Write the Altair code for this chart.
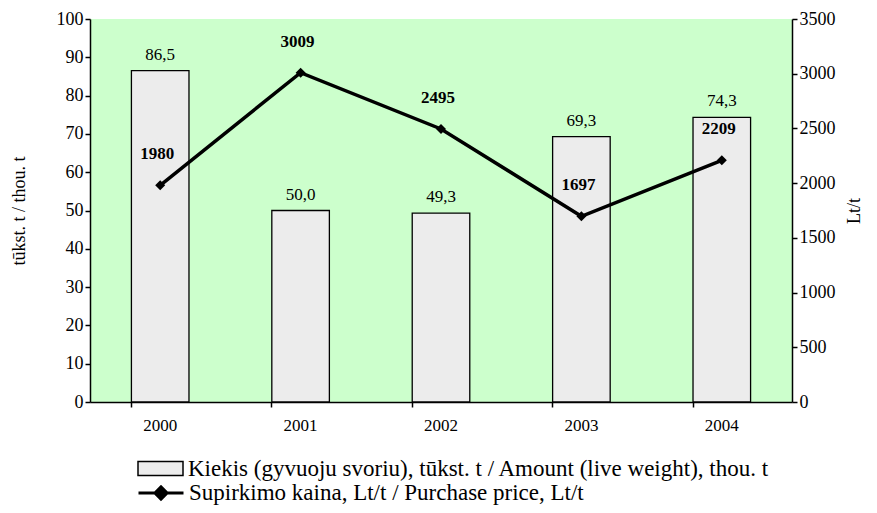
import altair as alt
import pandas as pd

years = ["2000", "2001", "2002", "2003", "2004"]
amount = [86.5, 50.0, 49.3, 69.3, 74.3]
amount_labels = ["86,5", "50,0", "49,3", "69,3", "74,3"]
price = [1980, 3009, 2495, 1697, 2209]

bar_name = "Kiekis (gyvuoju svoriu), tūkst. t / Amount (live weight), thou. t"
line_name = "Supirkimo kaina, Lt/t / Purchase price, Lt/t"

df = pd.DataFrame({
    "year": years,
    "amount": amount,
    "amount_label": amount_labels,
    "price": price,
    "bar_series": [bar_name] * 5,
    "line_series": [line_name] * 5,
})

FONT = "Liberation Serif"

x = alt.X("year:N", title=None, sort=years,
          scale=alt.Scale(paddingInner=0.59, paddingOuter=0.295),
          axis=alt.Axis(labelAngle=0, labelPadding=10, bandPosition=0))

yleft = alt.Y("amount:Q", title="tūkst. t / thou. t",
              scale=alt.Scale(domain=[0, 100]),
              axis=alt.Axis(values=list(range(0, 101, 10)), orient="left",
                            titlePadding=28, format="d"))

yright = alt.Y("price:Q", title="Lt/t",
               scale=alt.Scale(domain=[0, 3500]),
               axis=alt.Axis(values=list(range(0, 3501, 500)), orient="right",
                             titlePadding=28, titleAngle=270, format="d"))

bars = alt.Chart(df).mark_bar(stroke="black", strokeWidth=1.3).encode(
    x=x,
    y=yleft,
    fill=alt.Fill("bar_series:N", title=None,
                  scale=alt.Scale(range=["#ececec"]),
                  legend=alt.Legend(orient="none", legendX=47, legendY=426,
                                    symbolType="M-1,-0.31H1V0.31H-1Z", symbolSize=2025,
                                    symbolStrokeColor="black", symbolStrokeWidth=1.5)),
)

bar_text = alt.Chart(df).mark_text(dy=-16, fontSize=17, font=FONT, color="black").encode(
    x=x,
    y=yleft,
    text="amount_label:N",
)

line = alt.Chart(df).mark_line(color="black", strokeWidth=3.5).encode(
    x=x,
    y=yright,
    stroke=alt.Stroke("line_series:N", title=None,
                      scale=alt.Scale(range=["black"]),
                      legend=alt.Legend(orient="none", legendX=47, legendY=450,
                                        symbolType="M-1,0H1M-0.27,0L0,-0.27L0.27,0L0,0.27Z",
                                        symbolSize=2025, symbolFillColor="black",
                                        symbolStrokeWidth=3)),
)

points = alt.Chart(df).mark_point(shape="diamond", filled=True, color="black", size=100, opacity=1).encode(
    x=x,
    y=yright,
)

line_text = alt.Chart(df).mark_text(dy=-31, dx=-3, fontSize=17, font=FONT, fontWeight="bold", color="black").encode(
    x=x,
    y=yright,
    text="price:Q",
)

left = alt.layer(bars, bar_text)
right = alt.layer(line, points, line_text)

chart = alt.layer(left, right).resolve_scale(y="independent", fill="independent", stroke="independent").properties(
    width=702, height=383,
    autosize=alt.AutoSizeParams(type="none"),
    padding={"left": 82, "top": 11, "right": 77, "bottom": 103},
).configure_view(
    fill="#CCFFCC", stroke=None
).configure_axis(
    labelFont=FONT, titleFont=FONT, labelColor="black", titleColor="black",
    labelFontSize=18, titleFontSize=18, titleFontWeight="normal",
    tickSize=5, tickWidth=1.5, tickColor="black",
    domainColor="black", domainWidth=1.5, grid=False,
).configure_axisX(
    labelFontSize=17,
).configure_legend(
    labelFont=FONT, labelFontSize=23, labelColor="black", labelLimit=900, labelOffset=4,
).configure_text(font=FONT)

chart.save("out.html", embed_options={"renderer": "svg", "actions": False})
